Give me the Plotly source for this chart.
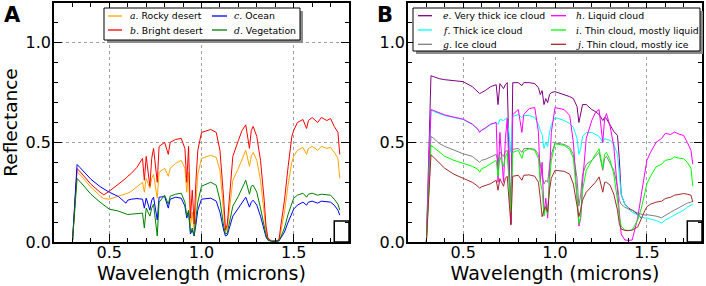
import plotly.graph_objects as go

W, H = 706, 286

# ---------------- Panel A data ----------------
wl_a = [0.30, 0.325, 0.34, 0.37, 0.40,
        0.45, 0.47, 0.50, 0.55, 0.59,
        0.60, 0.62, 0.65, 0.68, 0.69,
        0.70, 0.72, 0.73, 0.74, 0.76,
        0.77, 0.80, 0.82, 0.83, 0.86,
        0.89, 0.91, 0.92, 0.93, 0.94,
        0.95, 0.96, 0.97, 0.98, 1.00,
        1.05, 1.08, 1.10, 1.12, 1.13,
        1.14, 1.15, 1.17, 1.20, 1.22,
        1.24, 1.26, 1.27, 1.28, 1.30,
        1.32, 1.34, 1.35, 1.36, 1.38,
        1.40, 1.42, 1.43, 1.45, 1.47,
        1.49, 1.50, 1.52, 1.55, 1.57,
        1.58, 1.60, 1.63, 1.65, 1.68,
        1.70, 1.72, 1.74, 1.75]

rocky_desert = [0.0, 0.352, 0.34, 0.305, 0.275,
                0.232, 0.218, 0.215, 0.23, 0.24,
                0.245, 0.255, 0.28, 0.30, 0.25,
                0.32, 0.27, 0.32, 0.34, 0.22,
                0.35, 0.37, 0.33, 0.37, 0.395,
                0.41, 0.37, 0.25, 0.35, 0.08,
                0.15, 0.06, 0.20, 0.34, 0.42,
                0.435, 0.425, 0.36, 0.15, 0.05,
                0.07, 0.15, 0.31, 0.37, 0.42,
                0.46, 0.38, 0.43, 0.45, 0.41,
                0.31, 0.15, 0.06, 0.015, 0.005,
                0.005, 0.01, 0.05, 0.15, 0.29,
                0.40, 0.43, 0.46, 0.475, 0.44,
                0.47, 0.48, 0.46, 0.48, 0.47,
                0.475, 0.45, 0.42, 0.32]

bright_desert = [0.0, 0.368, 0.355, 0.32, 0.29,
                 0.25, 0.237, 0.255, 0.29, 0.32,
                 0.33, 0.345, 0.375, 0.42, 0.31,
                 0.43, 0.28, 0.42, 0.47, 0.30,
                 0.48, 0.50, 0.44, 0.50, 0.515,
                 0.52, 0.47, 0.30, 0.48, 0.12,
                 0.26, 0.09, 0.31, 0.46, 0.55,
                 0.565, 0.55, 0.46, 0.22, 0.06,
                 0.09, 0.22, 0.43, 0.51, 0.56,
                 0.588, 0.47, 0.56, 0.58, 0.53,
                 0.41, 0.21, 0.08, 0.02, 0.005,
                 0.005, 0.01, 0.08, 0.21, 0.38,
                 0.53, 0.56, 0.60, 0.615, 0.57,
                 0.61, 0.625, 0.60, 0.625, 0.61,
                 0.62, 0.58, 0.55, 0.44]

ocean = [0.0, 0.389, 0.375, 0.345, 0.315,
         0.278, 0.265, 0.25, 0.228, 0.195,
         0.21, 0.215, 0.218, 0.215, 0.17,
         0.22, 0.16, 0.21, 0.225, 0.11,
         0.225, 0.228, 0.17, 0.215, 0.225,
         0.22, 0.18, 0.12, 0.15, 0.04,
         0.06, 0.03, 0.09, 0.16, 0.215,
         0.22, 0.205, 0.15, 0.06, 0.03,
         0.035, 0.07, 0.13, 0.17, 0.20,
         0.225, 0.175, 0.20, 0.21, 0.185,
         0.13, 0.06, 0.025, 0.01, 0.003,
         0.003, 0.005, 0.02, 0.05, 0.10,
         0.15, 0.165, 0.185, 0.20, 0.185,
         0.20, 0.205, 0.195, 0.205, 0.20,
         0.20, 0.185, 0.16, 0.135]

vegetation = [0.0, 0.318, 0.305, 0.27, 0.24,
              0.20, 0.185, 0.165, 0.155, 0.14,
              0.138, 0.14, 0.143, 0.145, 0.07,
              0.17, 0.13, 0.17, 0.19, 0.03,
              0.20, 0.235, 0.19, 0.23, 0.24,
              0.245, 0.20, 0.13, 0.16, 0.05,
              0.07, 0.035, 0.12, 0.20, 0.28,
              0.30, 0.285, 0.21, 0.08, 0.04,
              0.045, 0.09, 0.18, 0.23, 0.27,
              0.31, 0.24, 0.28, 0.285, 0.25,
              0.17, 0.08, 0.035, 0.01, 0.004,
              0.004, 0.006, 0.025, 0.07, 0.14,
              0.20, 0.22, 0.235, 0.245, 0.225,
              0.24, 0.245, 0.235, 0.24, 0.235,
              0.235, 0.215, 0.19, 0.16]

# ---------------- Panel B data ----------------
wl_b = [0.30, 0.325, 0.34, 0.37, 0.40,
        0.45, 0.50, 0.55, 0.58, 0.59,
        0.60, 0.62, 0.65, 0.68, 0.69,
        0.70, 0.72, 0.73, 0.74, 0.76,
        0.77, 0.80, 0.82, 0.83, 0.86,
        0.89, 0.91, 0.92, 0.93, 0.94,
        0.95, 0.96, 0.97, 0.98, 1.00,
        1.05, 1.08, 1.10, 1.12, 1.13,
        1.14, 1.15, 1.17, 1.20, 1.22,
        1.24, 1.26, 1.27, 1.28, 1.30,
        1.32, 1.34, 1.35, 1.36, 1.38,
        1.40, 1.42, 1.45, 1.47, 1.49,
        1.50, 1.52, 1.55, 1.58, 1.60,
        1.63, 1.65, 1.68, 1.70, 1.72,
        1.74, 1.75]

very_thick_ice = [0.0, 0.835, 0.83, 0.82, 0.815,
                  0.81, 0.805, 0.78, 0.755, 0.745,
                  0.75, 0.76, 0.78, 0.79, 0.69,
                  0.795, 0.77, 0.79, 0.80, 0.09,
                  0.80, 0.80, 0.785, 0.80, 0.80,
                  0.795, 0.775, 0.74, 0.76, 0.69,
                  0.72, 0.70, 0.74, 0.75, 0.755,
                  0.74, 0.73, 0.72, 0.68, 0.60,
                  0.64, 0.69, 0.69, 0.665, 0.655,
                  0.64, 0.61, 0.625, 0.62, 0.59,
                  0.555, 0.535, 0.42, 0.24, 0.19,
                  0.17, 0.16, 0.14, 0.12, None,
                  None, None, None, None, None,
                  None, None, None, None, None,
                  None, None]

thick_ice = [0.0, 0.663, 0.655, 0.645, 0.635,
             0.625, 0.615, 0.59, 0.565, 0.555,
             0.56, 0.57, 0.59, 0.60, 0.59,
             0.615, 0.61, 0.62, 0.625, 0.45,
             0.63, 0.64, 0.625, 0.635, 0.635,
             0.625, 0.59, 0.56, 0.54, 0.47,
             0.50, 0.48, 0.55, 0.59, 0.625,
             0.61, 0.595, 0.575, 0.52, 0.44,
             0.47, 0.53, 0.55, 0.55, 0.54,
             0.53, 0.50, 0.52, 0.515, 0.51,
             0.49, 0.44, 0.34, 0.24, 0.19,
             0.165, 0.15, 0.135, 0.125, 0.12,
             0.12, 0.115, 0.108, 0.095, 0.11,
             0.125, 0.135, 0.15, 0.16, 0.175,
             0.185, 0.19]

ice_cloud = [0.0, 0.53, 0.52, 0.495, 0.48,
             0.46, 0.443, 0.43, 0.41, 0.40,
             0.41, 0.415, 0.427, 0.44, 0.40,
             0.452, 0.43, 0.455, 0.46, 0.22,
             0.465, 0.47, 0.45, 0.468, 0.47,
             0.465, 0.44, 0.39, 0.36, 0.29,
             0.31, 0.30, 0.38, 0.44, 0.497,
             0.49, 0.475, 0.44, 0.32, 0.18,
             0.24, 0.34, 0.39, 0.41, 0.43,
             0.45, 0.36, 0.42, 0.43, 0.395,
             0.36, 0.28, 0.21, 0.19, 0.175,
             0.165, 0.16, 0.145, 0.14, 0.135,
             0.137, 0.135, 0.13, 0.122, 0.135,
             0.15, 0.16, 0.175, 0.185, 0.195,
             0.20, 0.205]

liquid_cloud = [0.0, 0.665, 0.66, 0.648, 0.638,
                0.627, 0.617, 0.592, 0.567, 0.55,
                0.562, 0.572, 0.592, 0.60, 0.30,
                0.55, 0.30, 0.52, 0.62, 0.10,
                0.64, 0.665, 0.55, 0.64, 0.67,
                0.675, 0.55, 0.30, 0.40, 0.14,
                0.22, 0.12, 0.35, 0.55, 0.675,
                0.665, 0.635, 0.50, 0.22, 0.08,
                0.12, 0.30, 0.52, 0.61, 0.65,
                0.665, 0.50, 0.62, 0.645, 0.58,
                0.48, 0.25, 0.12, 0.04, 0.01,
                0.008, 0.01, 0.12, 0.24, 0.35,
                0.41, 0.45, 0.50, 0.52, 0.545,
                0.54, 0.552, 0.54, 0.535, 0.50,
                0.46, 0.39]

thin_liquid = [0.0, 0.485, 0.475, 0.45, 0.43,
               0.41, 0.393, 0.38, 0.365, 0.35,
               0.368, 0.375, 0.393, 0.41, 0.33,
               0.427, 0.38, 0.43, 0.445, 0.15,
               0.45, 0.46, 0.42, 0.455, 0.468,
               0.46, 0.42, 0.30, 0.26, 0.13,
               0.18, 0.14, 0.30, 0.41, 0.493,
               0.485, 0.465, 0.42, 0.22, 0.093,
               0.13, 0.26, 0.36, 0.41, 0.44,
               0.468, 0.37, 0.44, 0.45, 0.41,
               0.34, 0.21, 0.127, 0.08, 0.06,
               0.058, 0.06, 0.11, 0.17, 0.25,
               0.293, 0.33, 0.377, 0.39, 0.41,
               0.415, 0.427, 0.42, 0.418, 0.40,
               0.37, 0.28]

thin_ice = [0.0, 0.438, 0.425, 0.395, 0.37,
            0.34, 0.318, 0.30, 0.28, 0.27,
            0.277, 0.283, 0.293, 0.31, 0.26,
            0.318, 0.28, 0.32, 0.33, 0.085,
            0.33, 0.335, 0.31, 0.335, 0.337,
            0.33, 0.30, 0.22, 0.127, 0.16,
            0.177, 0.15, 0.26, 0.32, 0.36,
            0.355, 0.34, 0.29, 0.18, 0.127,
            0.16, 0.21, 0.25, 0.28, 0.30,
            0.327, 0.25, 0.30, 0.30, 0.285,
            0.24, 0.16, 0.093, 0.065, 0.058,
            0.057, 0.06, 0.075, 0.12, 0.16,
            0.177, 0.19, 0.20, 0.205, 0.218,
            0.225, 0.235, 0.24, 0.243, 0.24,
            0.235, 0.20]

series_a = [("a", "Rocky desert", rocky_desert, "#FFA500"),
            ("b", "Bright desert", bright_desert, "#FF0000"),
            ("c", "Ocean", ocean, "#0000FF"),
            ("d", "Vegetation", vegetation, "#008000")]
series_b = [("e", "Very thick ice cloud", very_thick_ice, "#800080"),
            ("f", "Thick ice cloud", thick_ice, "#00FFFF"),
            ("g", "Ice cloud", ice_cloud, "#808080"),
            ("h", "Liquid cloud", liquid_cloud, "#FF00FF"),
            ("i", "Thin cloud, mostly liquid", thin_liquid, "#00FF00"),
            ("j", "Thin cloud, mostly ice", thin_ice, "#A52A2A")]

fig = go.Figure()
for letter, name, vals, col in series_a:
    fig.add_trace(go.Scatter(x=wl_a, y=vals, mode="lines", name=name,
                             line=dict(color=col, width=1), xaxis="x", yaxis="y",
                             showlegend=False))
for letter, name, vals, col in series_b:
    fig.add_trace(go.Scatter(x=wl_b, y=vals, mode="lines", name=name,
                             line=dict(color=col, width=1), xaxis="x2", yaxis="y2",
                             showlegend=False))

FONT = "DejaVu Sans"

def px_x(p):
    return p / W

def px_y(p):
    return 1 - p / H

ydom = [px_y(242), px_y(3)]

def xaxis_cfg(dom, anchor):
    return dict(domain=dom, anchor=anchor, range=[0.2, 1.8], tick0=0, dtick=0.5,
                automargin=False, ticklabelstandoff=-5,
                tickformat=".1f", ticks="inside", ticklen=8, tickwidth=1, tickcolor="black",
                showline=True, linecolor="black", linewidth=1.5, mirror="ticks",
                showgrid=True, gridcolor="#a0a0a0", griddash="dot", gridwidth=1,
                zeroline=False,
                minor=dict(tick0=0, dtick=0.1, ticks="inside", ticklen=4.5, tickcolor="black",
                           tickwidth=1, showgrid=False),
                tickfont=dict(family=FONT, size=16, color="black"),
                title=dict(text="Wavelength (microns)", font=dict(family=FONT, size=19, color="black"),
                           standoff=5))

def yaxis_cfg(anchor, title):
    d = dict(domain=ydom, anchor=anchor, range=[0, 1.2], tick0=0, dtick=0.5,
             automargin=False, ticklabelstandoff=-2,
             tickformat=".1f", ticks="inside", ticklen=8, tickwidth=1, tickcolor="black",
             showline=True, linecolor="black", linewidth=1.5, mirror="ticks",
             showgrid=True, gridcolor="#a0a0a0", griddash="dot", gridwidth=1,
             zeroline=False,
             minor=dict(tick0=0, dtick=0.1, ticks="inside", ticklen=4.5, tickcolor="black",
                        tickwidth=1, showgrid=False),
             tickfont=dict(family=FONT, size=16, color="black"))
    if title:
        d["title"] = dict(text=title, font=dict(family=FONT, size=18.5, color="black"), standoff=6)
    return d

shapes = []
annotations = []

# little square boxes at lower right of each panel
for xr, yr in (("x", "y"), ("x2", "y2")):
    shapes.append(dict(type="rect", xref=xr, yref=yr, x0=1.72, x1=1.8, y0=0, y1=0.105,
                       line=dict(color="black", width=1.5), fillcolor="rgba(0,0,0,0)", layer="above"))

def legend_box(x0, x1, y0, y1):
    shapes.append(dict(type="rect", xref="paper", yref="paper",
                       x0=px_x(x0 + 3), x1=px_x(x1 + 3), y0=px_y(y1 + 3), y1=px_y(y0 + 3),
                       line=dict(width=0), fillcolor="#8c8c8c", layer="above"))
    shapes.append(dict(type="rect", xref="paper", yref="paper",
                       x0=px_x(x0), x1=px_x(x1), y0=px_y(y1), y1=px_y(y0),
                       line=dict(color="black", width=1), fillcolor="white", layer="above"))

def legend_entry(lx0, lx1, tx, y, letter, name, col):
    shapes.append(dict(type="line", xref="paper", yref="paper",
                       x0=px_x(lx0), x1=px_x(lx1), y0=px_y(y), y1=px_y(y),
                       line=dict(color=col, width=1.3), layer="above"))
    annotations.append(dict(xref="paper", yref="paper", x=px_x(tx), y=px_y(y),
                            xanchor="left", yanchor="middle", showarrow=False,
                            text="<span style=\"font-family:'DejaVu Serif'\"><i>%s</i></span>. %s" % (letter, name),
                            font=dict(family=FONT, size=9.3, color="black")))

legend_box(104, 300, 8, 40)
rows_a = [16, 30]
for k, (letter, name, vals, col) in enumerate(series_a):
    c, r = divmod(k, 2)
    if c == 0:
        legend_entry(108, 122, 128, rows_a[r], letter, name, col)
    else:
        legend_entry(212, 227, 232, rows_a[r], letter, name, col)

legend_box(413, 700, 8, 51)
rows_b = [15.7, 30, 44.3]
for k, (letter, name, vals, col) in enumerate(series_b):
    c, r = divmod(k, 3)
    if c == 0:
        legend_entry(418, 432, 441, rows_b[r], letter, name, col)
    else:
        legend_entry(551, 566, 574, rows_b[r], letter, name, col)

# panel letters
annotations.append(dict(xref="paper", yref="paper", x=px_x(12), y=px_y(15), text="<b>A</b>",
                        showarrow=False, xanchor="center", yanchor="middle",
                        font=dict(family=FONT, size=21, color="black")))
annotations.append(dict(xref="paper", yref="paper", x=px_x(385), y=px_y(15), text="<b>B</b>",
                        showarrow=False, xanchor="center", yanchor="middle",
                        font=dict(family=FONT, size=21, color="black")))

fig.update_layout(
    width=W, height=H,
    margin=dict(l=0, r=0, t=0, b=0, autoexpand=False),
    paper_bgcolor="white", plot_bgcolor="white",
    showlegend=False,
    xaxis=xaxis_cfg([px_x(54), px_x(349)], "y"),
    yaxis=yaxis_cfg("x", "Reflectance"),
    xaxis2=xaxis_cfg([px_x(408), px_x(702)], "y2"),
    yaxis2=yaxis_cfg("x2", None),
    shapes=shapes,
    annotations=annotations,
)

fig.write_html("out.html", config={"displayModeBar": False},
               post_script="document.body.style.margin='0';document.body.style.padding='0';")
